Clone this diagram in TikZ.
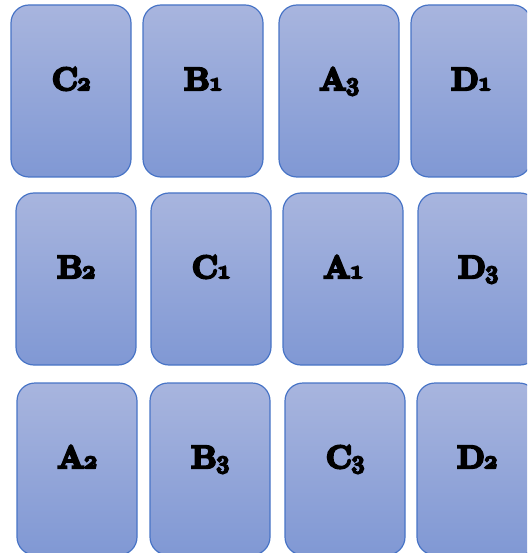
\documentclass[tikz,border=0pt]{standalone}
\usepackage{tikz}
\usetikzlibrary{positioning}
\usepackage{xcolor}
\definecolor{cardtop}{RGB}{168,181,222}
\definecolor{cardbottom}{RGB}{128,152,212}
\definecolor{cardedge}{RGB}{72,116,198}
\newcommand\heavytext[1]{\special{pdf:literal 2 Tr 2.4 w 0 G}#1\special{pdf:literal 0 Tr 1 w}}
\newcommand\osdigit[1]{{\fontsize{36}{36}\usefont{OML}{lmm}{b}{it}#1}}

\begin{document}
\begin{tikzpicture}[x=1pt, y=-1pt]
  \tikzset{
    card/.style={
      draw=cardedge,
      line width=1.2pt,
      rounded corners=18pt,
      minimum width=120pt,
      minimum height=172pt,
      anchor=center,
      top color=cardtop,
      bottom color=cardbottom
    },
    cardname/.style={
      font=\fontsize{32}{32}\selectfont\bfseries,
      anchor=base,
      inner sep=0pt
    }
  }
  \useasboundingbox (0,0) rectangle (527,553);
  \clip (0,0) rectangle (527,553);

  % First row
    \node[card] at (71, 91) (cardC2) {};
    \node[cardname, yshift=1pt] at (cardC2.center) (nameC2) {\heavytext{C\osdigit{2}}};
    \node[card] at (203, 91) (cardB1) {};
    \node[cardname, yshift=1pt] at (cardB1.center) (nameB1) {\heavytext{B\osdigit{1}}};
    \node[card] at (339, 91) (cardA3) {};
    \node[cardname, yshift=1pt] at (cardA3.center) (nameA3) {\heavytext{A\osdigit{3}}};
    \node[card] at (471, 91) (cardD1) {};
    \node[cardname, yshift=1pt] at (cardD1.center) (nameD1) {\heavytext{D\osdigit{1}}};

  % Second row
    \node[card] at (76, 279) (cardB2) {};
    \node[cardname, yshift=1pt] at (cardB2.center) (nameB2) {\heavytext{B\osdigit{2}}};
    \node[card] at (211, 279) (cardC1) {};
    \node[cardname, yshift=1pt] at (cardC1.center) (nameC1) {\heavytext{C\osdigit{1}}};
    \node[card] at (343, 279) (cardA1) {};
    \node[cardname, yshift=1pt] at (cardA1.center) (nameA1) {\heavytext{A\osdigit{1}}};
    \node[card] at (478, 279) (cardD3) {};
    \node[cardname, yshift=1pt] at (cardD3.center) (nameD3) {\heavytext{D\osdigit{3}}};

  % Third row
    \node[card] at (77, 469) (cardA2) {};
    \node[cardname, yshift=1pt] at (cardA2.center) (nameA2) {\heavytext{A\osdigit{2}}};
    \node[card] at (210, 469) (cardB3) {};
    \node[cardname, yshift=1pt] at (cardB3.center) (nameB3) {\heavytext{B\osdigit{3}}};
    \node[card] at (345, 469) (cardC3) {};
    \node[cardname, yshift=1pt] at (cardC3.center) (nameC3) {\heavytext{C\osdigit{3}}};
    \node[card] at (477, 469) (cardD2) {};
    \node[cardname, yshift=1pt] at (cardD2.center) (nameD2) {\heavytext{D\osdigit{2}}};

\end{tikzpicture}
\end{document}
